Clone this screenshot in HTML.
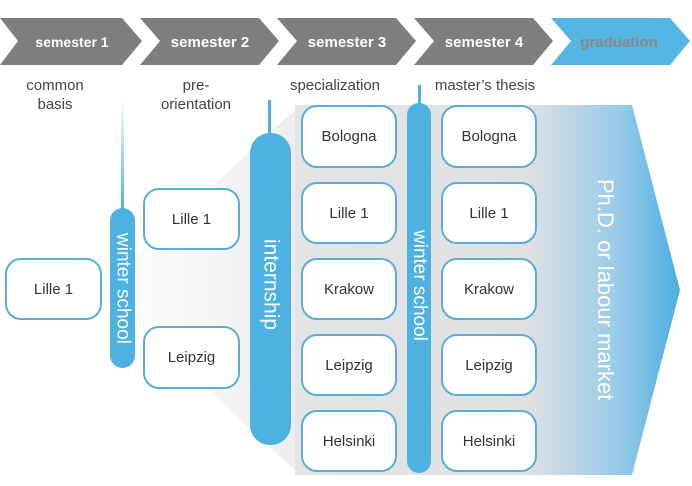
<!DOCTYPE html>
<html><head><style>
body{margin:0;width:692px;height:486px;background:#fff;position:relative;overflow:hidden;font-family:"Liberation Sans",sans-serif;}
.lbl{position:absolute;color:#444;font-size:15px;text-align:center;line-height:19px;}
.box{position:absolute;width:94px;height:60px;border:2px solid #5aaed6;border-radius:16px;background:#fff;color:#333;font-size:15px;display:flex;align-items:center;justify-content:center;box-sizing:border-box;}
.pill{position:absolute;background:#4db1e2;border-radius:14px;}
.vt{position:absolute;color:#fff;writing-mode:vertical-rl;white-space:nowrap;}
.line{position:absolute;width:3px;background:#4db1e2;}
</style></head><body>
<svg width="692" height="486" style="position:absolute;left:0;top:0">
<defs>
<linearGradient id="fan" x1="0" x2="1" y1="0" y2="0"><stop offset="0" stop-color="#fff"/><stop offset="1" stop-color="#ededee"/></linearGradient>
<linearGradient id="arr" x1="0" x2="1" y1="0" y2="0"><stop offset="0" stop-color="#e3e4e6"/><stop offset="0.6" stop-color="#e0e1e3"/><stop offset="0.85" stop-color="#94cae8"/><stop offset="1" stop-color="#4aaee0"/></linearGradient>
</defs>
<polygon points="100,290 300,105 300,475" fill="url(#fan)"/>
<polygon points="295,105 632,105 680,290 632,475 295,475" fill="url(#arr)"/>
<g fill="#7f7d7e">
<polygon points="0,18 122,18 142,41 122,65 0,65 18,41"/>
<polygon points="140,18 259,18 279,41 259,65 140,65 160,41"/>
<polygon points="277,18 396,18 416,41 396,65 277,65 297,41"/>
<polygon points="414,18 533,18 553,41 533,65 414,65 434,41"/>
</g>
<polygon points="551,18 670,18 690,41 670,65 551,65 571,41" fill="#55b6e5"/>
<g font-family="Liberation Sans" font-weight="bold" font-size="15" text-anchor="middle">
<text x="72" y="47" fill="#fff" font-size="14">semester 1</text>
<text x="210" y="47" fill="#fff">semester 2</text>
<text x="347" y="47" fill="#fff">semester 3</text>
<text x="484" y="47" fill="#fff">semester 4</text>
<text x="619" y="47" fill="#888">graduation</text>
</g>
</svg>
<div class="lbl" style="left:5px;top:76px;width:100px">common<br>basis</div>
<div class="lbl" style="left:146px;top:76px;width:100px">pre-<br>orientation</div>
<div class="lbl" style="left:275px;top:76px;width:120px">specialization</div>
<div class="lbl" style="left:420px;top:76px;width:130px">master’s thesis</div>

<div class="line" style="left:121px;top:100px;height:110px;background:linear-gradient(#fff,#4db1e2)"></div>
<div class="line" style="left:268px;top:100px;height:35px"></div>
<div class="line" style="left:418px;top:85px;height:22px"></div>

<div class="box" style="left:5px;top:258px;width:97px;height:62px">Lille 1</div>
<div class="pill" style="left:110px;top:208px;width:25px;height:160px"></div>
<div class="vt" style="left:110px;top:208px;width:25px;height:160px;font-size:19px;display:flex;align-items:center;justify-content:center">winter school</div>
<div class="box" style="left:143px;top:188px;width:97px;height:62px">Lille 1</div>
<div class="box" style="left:143px;top:326px;width:97px;height:63px">Leipzig</div>
<div class="pill" style="left:250px;top:133px;width:41px;height:312px;border-radius:20px"></div>
<div class="vt" style="left:250px;top:185px;width:41px;height:200px;font-size:21px;display:flex;align-items:center;justify-content:center">internship</div>

<div class="box" style="left:301px;top:105px;width:96px;height:63px">Bologna</div>
<div class="box" style="left:301px;top:182px;width:96px;height:62px">Lille 1</div>
<div class="box" style="left:301px;top:258px;width:96px;height:62px">Krakow</div>
<div class="box" style="left:301px;top:334px;width:96px;height:62px">Leipzig</div>
<div class="box" style="left:301px;top:410px;width:96px;height:62px">Helsinki</div>

<div class="pill" style="left:407px;top:103px;width:24px;height:370px;border-radius:12px"></div>
<div class="vt" style="left:407px;top:205px;width:24px;height:160px;font-size:19px;display:flex;align-items:center;justify-content:center">winter school</div>

<div class="box" style="left:441px;top:105px;width:96px;height:63px">Bologna</div>
<div class="box" style="left:441px;top:182px;width:96px;height:62px">Lille 1</div>
<div class="box" style="left:441px;top:258px;width:96px;height:62px">Krakow</div>
<div class="box" style="left:441px;top:334px;width:96px;height:62px">Leipzig</div>
<div class="box" style="left:441px;top:410px;width:96px;height:62px">Helsinki</div>

<div class="vt" style="left:588px;top:160px;width:34px;height:260px;font-size:22px;display:flex;align-items:center;justify-content:center">Ph.D. or labour market</div>
</body></html>
